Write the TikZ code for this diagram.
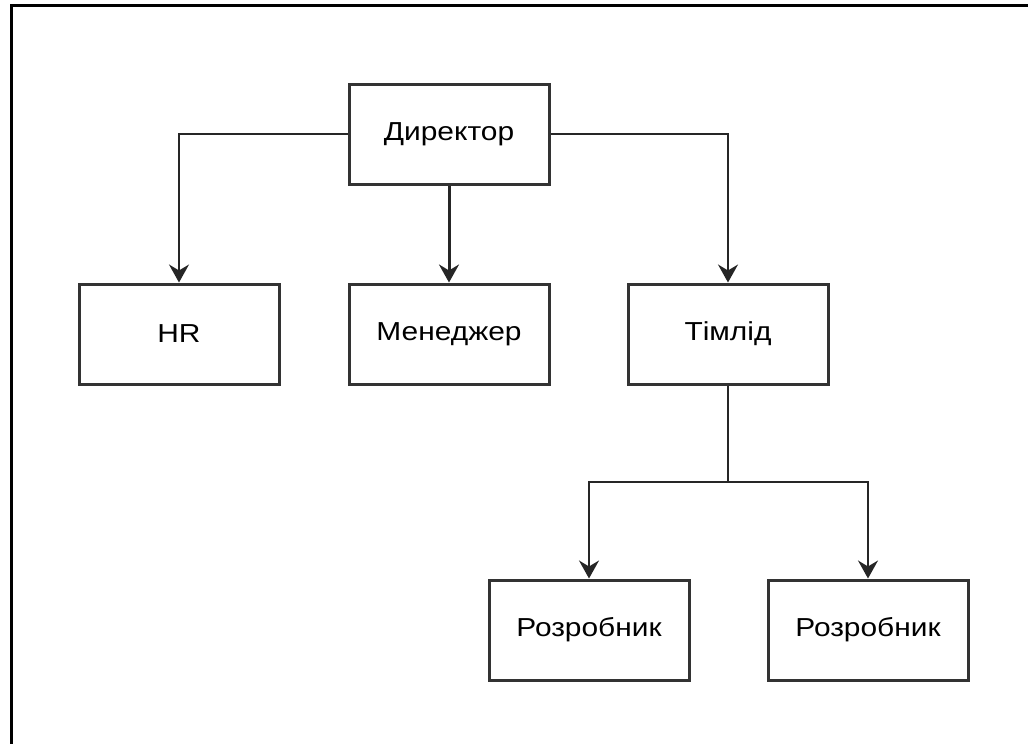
\documentclass[tikz,border=0pt]{standalone}
\usepackage{fontspec}
\setmainfont{Liberation Sans}[FakeStretch=1.15]
\usetikzlibrary{arrows.meta,positioning}
\tikzset{
  post/.style={draw=black!80,line width=1.5pt,minimum width=100pt,minimum height=50pt,inner sep=0pt,font=\fontsize{13}{15}\selectfont},
  link/.style={draw=black!85,line width=1pt,-{Stealth[length=9pt,width=10pt,inset=3pt]}}
}
\begin{document}
\begin{tikzpicture}[x=0.5pt,y=-0.5pt]
        \useasboundingbox (0,0) rectangle (1028,744);
        \draw[line width=1.5pt] (1028,5) -- (11,5) -- (11,744);
        \node[post] (dir) at (449,134) {Директор};
        \node[post] (hr) at (179,334) {HR};
        \node[post] (man) at (449,334) {Менеджер};
        \node[post] (lead) at (728,334) {Тімлід};
        \node[post] (devA) at (589,630) {Розробник};
        \node[post] (devB) at (868,630) {Розробник};
        \coordinate (split) at (728,482);
        \draw[link] (dir.west) -| (hr.north);
        \draw[link,line width=1.5pt] (dir.south) -- (man.north);
        \draw[link] (dir.east) -| (lead.north);
        \draw[draw=black!85,line width=1pt] (lead.south) -- (split);
        \foreach \d in {devA,devB} {
          \draw[link] (split) -| (\d.north);
        }
      \end{tikzpicture}
\end{document}
